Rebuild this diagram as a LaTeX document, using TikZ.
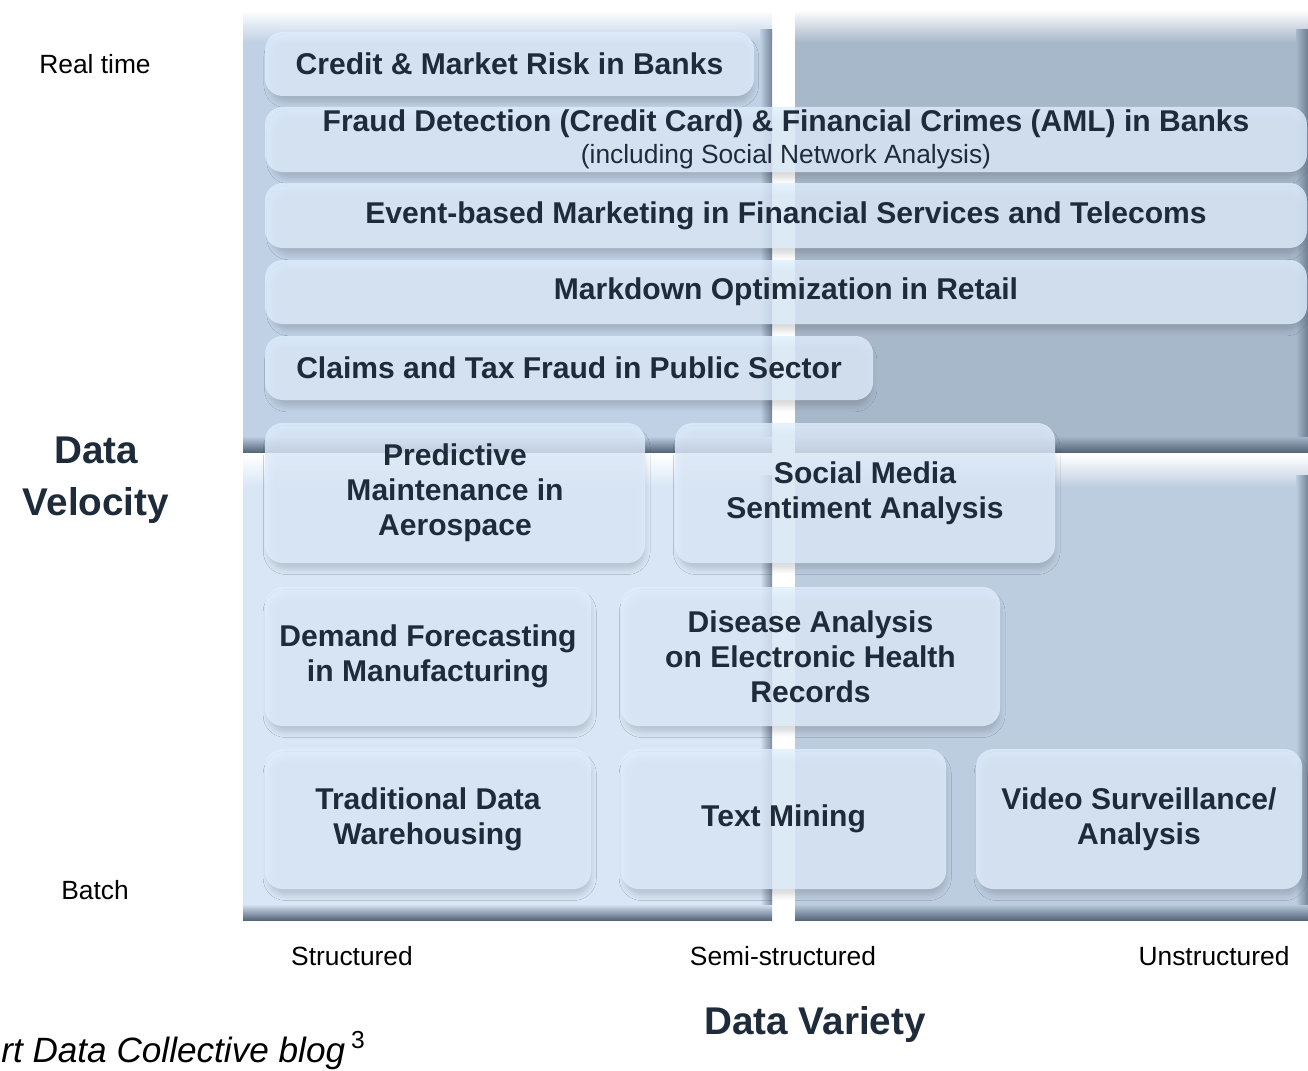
\documentclass[tikz,border=0pt]{standalone}
\usepackage{fontspec}
\setmainfont{Liberation Sans}
\usetikzlibrary{fit,shadows.blur}
\definecolor{ink}{HTML}{1E2B3A}
\definecolor{edge}{HTML}{56667B}
\definecolor{tlpanel}{HTML}{C0D1E5}
\definecolor{trpanel}{HTML}{A8B8CB}
\definecolor{blpanel}{HTML}{D8E6F5}
\definecolor{brpanel}{HTML}{BDCDE0}
\definecolor{casefill}{HTML}{DFEDFD}
% quadrant panel: x1, y1, x2, y2, colour
\newcommand{\quadpanel}[5]{%
  \fill[#5] (#1,#2) rectangle (#3,#4);
  \shade[top color=white, bottom color=#5] (#1,#2) rectangle (#3,#2+32);
  \shade[top color=#5, bottom color=edge] (#1,#4-16) rectangle (#3,#4);
  \shade[left color=#5, right color=edge!70!#5] (#3-12,#2+20) rectangle (#3,#4-16);
}
\begin{document}
\begin{tikzpicture}[x=0.2mm,y=-0.2mm,
  usecase/.style={rounded corners=10pt, fill=casefill, fill opacity=0.8, inner sep=0pt,
    blur shadow={shadow xshift=1pt, shadow yshift=-4pt, shadow scale=0.99,
      shadow blur radius=3pt, shadow opacity=18}},
  casetext/.style={text=ink, align=center, inner sep=0pt,
    font=\bfseries\fontsize{17.1}{19.9}\selectfont},
  axislabel/.style={text=black, font=\fontsize{15}{18}\selectfont},
  axistitle/.style={text=ink, align=center, font=\bfseries\fontsize{22}{29.5}\selectfont}]
  \useasboundingbox (0,0) rectangle (1308,1071);
  % background quadrants
  \quadpanel{243}{10}{772}{452}{tlpanel}
  \quadpanel{795}{10}{1308}{452}{trpanel}
  \quadpanel{243}{455}{772}{920}{blpanel}
  \quadpanel{795}{455}{1308}{920}{brpanel}
  % use cases
  \node[usecase, fit={(265,32) (754,96)}, label={[casetext]center:Credit \& Market Risk in Banks}] (credit) {};
  \node[usecase, fit={(265,107) (1307,172)}, label={[casetext]center:Fraud Detection (Credit Card) \& Financial Crimes (AML) in Banks\\[-2pt]
    {\mdseries\fontsize{15}{17}\selectfont (including Social Network Analysis)}}] (fraud) {};
  \node[usecase, fit={(265,183) (1307,248)}, label={[casetext]center:Event-based Marketing in Financial Services and Telecoms}] (event) {};
  \node[usecase, fit={(265,260) (1307,324)}, label={[casetext]center:Markdown Optimization in Retail}] (markdown) {};
  \node[usecase, fit={(265,336) (873,400)}, label={[casetext]center:Claims and Tax Fraud in Public Sector}] (claims) {};
  \node[usecase, fit={(265,423) (645,563)}, label={[casetext]center:Predictive\\Maintenance in\\Aerospace}] (predictive) {};
  \node[usecase, fit={(675,423) (1055,563)}, label={[casetext]center:Social Media\\Sentiment Analysis}] (social) {};
  \node[usecase, fit={(265,587) (591,726)}, label={[casetext]center:Demand Forecasting\\in Manufacturing}] (demand) {};
  \node[usecase, fit={(621,587) (1000,726)}, label={[casetext]center:Disease Analysis\\on Electronic Health\\Records}] (disease) {};
  \node[usecase, fit={(265,749) (591,889)}, label={[casetext]center:Traditional Data\\Warehousing}] (warehouse) {};
  \node[usecase, fit={(621,749) (946,889)}, label={[casetext]center:Text Mining}] (textmining) {};
  \node[usecase, fit={(976,749) (1302,889)}, label={[casetext]center:Video Surveillance/\\Analysis}] (video) {};
  % axes
  \node[axislabel] (realtime) at (95,64) {Real time};
  \node[axislabel] (batch) at (95,890) {Batch};
  \node[axistitle] (velocity) at (96,480) {Data\\Velocity};
  \node[axislabel] (structured) at (352,956) {Structured};
  \node[axislabel] (semi) at (783,956) {Semi-structured};
  \node[axislabel] (unstructured) at (1214,956) {Unstructured};
  \node[axistitle] (variety) at (815,1024) {Data Variety};
  \node[anchor=base west, inner sep=0pt, text=black, font=\itshape\fontsize{20}{22}\selectfont] (source) at (1,1062)
    {rt Data Collective blog\,\textsuperscript{\upshape 3}};
\end{tikzpicture}
\end{document}
